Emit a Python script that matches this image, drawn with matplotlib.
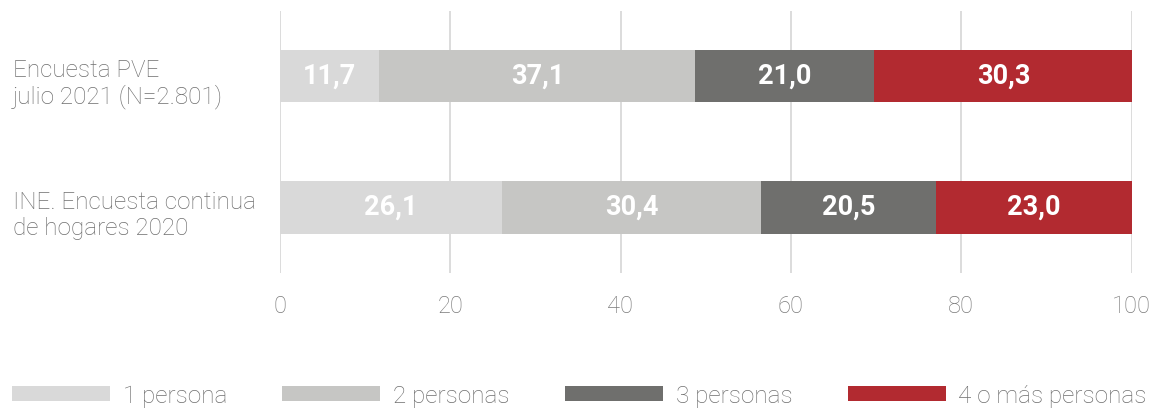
import matplotlib
matplotlib.use("Agg")
import matplotlib.pyplot as plt
import matplotlib.transforms as mtransforms
import numpy as np

categories = ["Encuesta PVE\njulio 2021 (N=2.801)", "INE. Encuesta continua\nde hogares 2020"]
series_names = ["1 persona", "2 personas", "3 personas", "4 o más personas"]
values = {
    "1 persona": [11.7, 26.1],
    "2 personas": [37.1, 30.4],
    "3 personas": [21.0, 20.5],
    "4 o más personas": [30.3, 23.0],
}
colors = ["#d9d9d9", "#c6c6c4", "#6f6f6d", "#b22a30"]
xticks = [0, 20, 40, 60, 80, 100]

plt.rcParams['font.family'] = ['Roboto', 'DejaVu Sans']

fig = plt.figure(figsize=(11.5, 4.08), dpi=100)
ax = fig.add_axes([279.7/1150, 1-273/408, (1131.7-279.7)/1150, (273-10.5)/408])

y = np.arange(len(categories))
left = np.zeros(len(categories))
handles = []
for name, col in zip(series_names, colors):
    vals = np.array(values[name])
    b = ax.barh(y, vals, left=left, height=0.4, color=col, zorder=2, label=name)
    handles.append(b)
    for yi, l, v in zip(y, left, vals):
        ax.text(l + v/2, yi, f"{v:.1f}".replace(".", ","), ha="center", va="center",
                color="white", fontsize=19.5, fontweight="bold", zorder=3)
    left = left + vals

ax.set_xlim(0, 100)
ax.set_ylim(1.5, -0.5)
ax.set_xticks(xticks)
ax.set_xticklabels([str(t) for t in xticks], fontsize=17, color="#7a7a7a", fontweight="light")
ax.tick_params(axis="x", length=0, pad=16)
ax.set_yticks([])
for s in ax.spines.values():
    s.set_visible(False)
for t in xticks:
    ax.axvline(t, color="#d6d6d6", lw=1.2, zorder=1)

trans = mtransforms.blended_transform_factory(fig.transFigure, ax.transData)
off = mtransforms.ScaledTranslation(0, -8/100, fig.dpi_scale_trans)
for yi, cat in zip(y, categories):
    ax.text(13/1150, yi, cat, transform=trans + off, ha="left", va="center",
            fontsize=17.5, color="#6f6f6f", fontweight="light", linespacing=1.15)

fs_leg = 17.5
px = fs_leg * 100 / 72
leg = fig.legend(handles=handles, labels=series_names, loc="center left",
                 bbox_to_anchor=(12/1150, 1-396/408), ncol=4, frameon=False,
                 fontsize=fs_leg, handlelength=98/px, handleheight=14/px,
                 handletextpad=13/px, columnspacing=55/px, borderpad=0, borderaxespad=0)
for t in leg.get_texts():
    t.set_color("#6f6f6f")
    t.set_fontweight("light")

fig.savefig("out.png", dpi=100)
